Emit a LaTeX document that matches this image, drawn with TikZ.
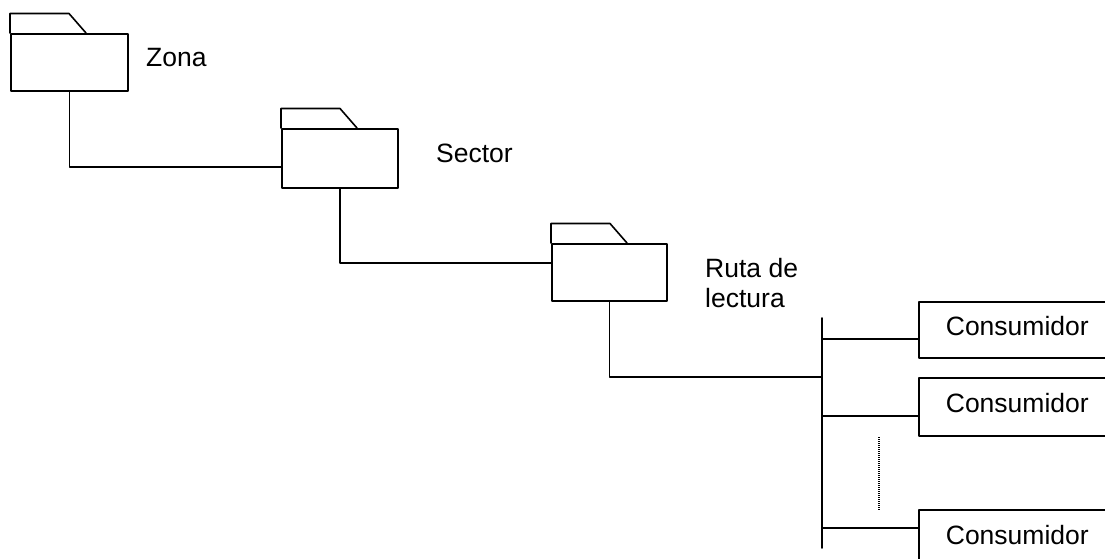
\documentclass[tikz,border=0pt]{standalone}
\usepackage{fontspec}
\setmainfont{Liberation Sans}
\begin{document}
\begin{tikzpicture}[x=1pt,y=-1pt,
  line/.style={line width=1.6pt,line cap=round,line join=round},
  folderbody/.style={line,draw,rectangle,inner sep=0pt,anchor=north west},
  cbox/.style={line,draw,rectangle,inner sep=0pt,anchor=north west,
    minimum width=197pt,text height=19pt,text depth=8pt},
  lbl/.style={font=\fontsize{26.5}{30}\selectfont,inner sep=0pt,anchor=base west,align=left}]
\useasboundingbox (0,0) rectangle (1105,559);
\clip (0,0) rectangle (1105,559);

% folders: body plus tab
\node[folderbody,minimum width=117pt,minimum height=57pt] (zona) at (10,33) {};
\node[folderbody,minimum width=116pt,minimum height=59pt] (sector) at (281,128) {};
\node[folderbody,minimum width=115pt,minimum height=57pt] (ruta) at (551,243) {};
\foreach \f in {zona,sector,ruta}
  \draw[line] (\f.north west) -- ++(0,-19.5) -- ++(59,0) -- ++(17,19.5);

% labels (base anchor sits on the last line)
\node[lbl] (tzona) at (146,67) {Zona};
\node[lbl] (tsector) at (436,162) {Sector};
\node[lbl] (truta) at (705,307) {Ruta de\\lectura};

% consumers
\node[cbox,font=\fontsize{26.5}{30}\selectfont,minimum height=56pt] (c1) at (918,301) {Consumidor};
\node[cbox,font=\fontsize{26.5}{30}\selectfont,minimum height=58pt] (c2) at (918,377) {Consumidor};
\node[cbox,font=\fontsize{26.5}{30}\selectfont,minimum height=58pt] (c3) at (918,509) {Consumidor};

% hierarchy connectors
\draw[line] (zona.south) |- ([yshift=-8.5pt]sector.west);
\draw[line] (sector.south) |- ([yshift=9.5pt]ruta.west);
\coordinate (bus) at (822,377);
\coordinate (bustop) at (822,318);
\coordinate (busbot) at (822,548);
\draw[line] (ruta.south) |- (bus);
\draw[line] (bustop) -- (busbot);

% branches to consumers
\coordinate (b1) at (822,339);
\coordinate (b2) at (822,416);
\coordinate (b3) at (822,528);
\draw[line] (b1) -- (b1 -| c1.west);
\draw[line] (b2) -- (b2 -| c2.west);
\draw[line] (b3) -- (b3 -| c3.west);

% elided consumers
\coordinate (d1) at (879,437);
\coordinate (d2) at (879,510);
\draw[line width=1.2pt,dash pattern=on 1pt off 1pt] (d1) -- (d2);
\end{tikzpicture}
\end{document}
